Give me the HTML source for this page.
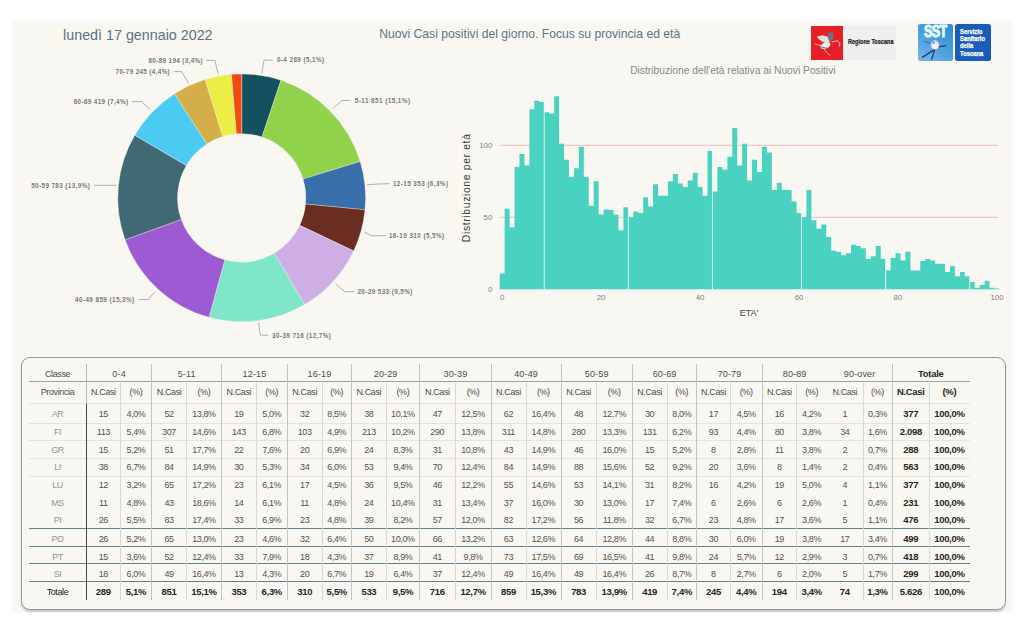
<!DOCTYPE html>
<html><head><meta charset="utf-8"><title>Nuovi Casi positivi</title>
<style>
html,body{margin:0;padding:0;background:#fff;}
body{width:1024px;height:634px;position:relative;overflow:hidden;font-family:"Liberation Sans",sans-serif;}
#panel{position:absolute;left:11.6px;top:20.8px;width:1000.4px;height:591.1px;background:#f9f7f2;box-shadow:0 0 3px 1.5px rgba(249,247,242,0.55);}
.t{position:absolute;white-space:nowrap;line-height:1;}
svg{position:absolute;left:0;top:0;}
.dl{font-family:"Liberation Sans",sans-serif;font-size:6.3px;font-weight:bold;fill:#787878;}
.ax{font-family:"Liberation Sans",sans-serif;font-size:7.9px;fill:#808080;}
#tbox{position:absolute;left:21.2px;top:356.8px;width:984.8px;height:253px;border:1.4px solid #8b9b9a;border-radius:9px;box-sizing:border-box;box-shadow:0 1.2px 1.2px rgba(120,135,135,0.4);}
.c{position:absolute;height:14px;line-height:14px;text-align:center;font-size:9px;color:#525252;white-space:nowrap;letter-spacing:-0.38px;text-indent:-0.38px;}
.c.h{color:#4c4c4c;}
.c.g{letter-spacing:0.15px;text-indent:0;}
.c.p{color:#959595;}
.c.b{font-weight:bold;color:#262626;font-size:9.5px;letter-spacing:-0.3px;text-indent:-0.3px;}
.c.tb{color:#222;}
.ln{position:absolute;}
</style></head><body>
<div id="panel"></div>
<div class="t" id="t1" style="left:63.1px;top:28.1px;font-size:14.3px;color:#5a7380;">lunedì 17 gennaio 2022</div>
<div class="t" id="t2" style="left:379.2px;top:28.3px;font-size:12.15px;color:#5d7582;">Nuovi Casi positivi del giorno. Focus su provincia ed età</div>
<div class="t" id="t3" style="left:630.2px;top:66.4px;font-size:10.25px;color:#888;">Distribuzione dell'età relativa ai Nuovi Positivi</div>

<!-- logos -->
<div style="position:absolute;left:843px;top:26.2px;width:52.6px;height:33.5px;background:#efefef;"></div>
<div style="position:absolute;left:811px;top:26.2px;width:32px;height:33.5px;background:#e62027;"></div>
<div class="t" id="t4" style="left:848.2px;top:39.3px;font-size:6.3px;font-weight:bold;color:#222;-webkit-text-stroke:0.2px #222;transform-origin:0 0;transform:scaleX(0.88);">Regione Toscana</div>
<div style="position:absolute;left:917.7px;top:24.1px;width:35.3px;height:36.6px;border-radius:2.5px;background:linear-gradient(215deg,#2d8ed5 0%,#4a9fdc 50%,#79b7e7 100%);"></div>
<div class="t" id="t5" style="left:923.5px;top:22.9px;font-size:17.4px;font-weight:bold;color:#e8fbff;letter-spacing:-0.9px;transform-origin:0 0;transform:scaleX(0.725);-webkit-text-stroke:1.1px #e8fbff;">SST</div>
<div style="position:absolute;left:955px;top:24.2px;width:35.8px;height:36.5px;border-radius:2.8px;background:#1a5cb8;"></div>
<div class="t" id="t6" style="left:960.3px;top:27.6px;font-size:6.5px;line-height:7.35px;font-weight:bold;color:#fff;white-space:pre;-webkit-text-stroke:0.25px #fff;transform-origin:0 0;transform:scaleX(0.9);">Servizio
Sanitario
della
Toscana</div>

<svg width="1024" height="634" viewBox="0 0 1024 634">
<path d="M241.70,73.95A123.9,123.9 0 0 1 281.00,80.35L262.06,136.97A64.2,64.2 0 0 0 241.70,133.65Z" fill="#14505f" stroke="#f5f3ee" stroke-width="0.35"/>
<path d="M281.00,80.35A123.9,123.9 0 0 1 360.15,161.52L303.08,179.02A64.2,64.2 0 0 0 262.06,136.97Z" fill="#90d34a" stroke="#f5f3ee" stroke-width="0.35"/>
<path d="M360.15,161.52A123.9,123.9 0 0 1 365.02,209.80L305.60,204.04A64.2,64.2 0 0 0 303.08,179.02Z" fill="#386ea9" stroke="#f5f3ee" stroke-width="0.35"/>
<path d="M365.02,209.80A123.9,123.9 0 0 1 353.65,250.94L299.71,225.36A64.2,64.2 0 0 0 305.60,204.04Z" fill="#6a2d1f" stroke="#f5f3ee" stroke-width="0.35"/>
<path d="M353.65,250.94A123.9,123.9 0 0 1 304.63,304.58L274.31,253.15A64.2,64.2 0 0 0 299.71,225.36Z" fill="#cdafe6" stroke="#f5f3ee" stroke-width="0.35"/>
<path d="M304.63,304.58A123.9,123.9 0 0 1 209.02,317.36L224.77,259.78A64.2,64.2 0 0 0 274.31,253.15Z" fill="#80e6c9" stroke="#f5f3ee" stroke-width="0.35"/>
<path d="M209.02,317.36A123.9,123.9 0 0 1 125.08,239.70L181.27,219.53A64.2,64.2 0 0 0 224.77,259.78Z" fill="#9c5bd2" stroke="#f5f3ee" stroke-width="0.35"/>
<path d="M125.08,239.70A123.9,123.9 0 0 1 134.79,135.22L186.31,165.40A64.2,64.2 0 0 0 181.27,219.53Z" fill="#416973" stroke="#f5f3ee" stroke-width="0.35"/>
<path d="M134.79,135.22A123.9,123.9 0 0 1 174.53,93.73L206.90,143.90A64.2,64.2 0 0 0 186.31,165.40Z" fill="#4bcbf1" stroke="#f5f3ee" stroke-width="0.35"/>
<path d="M174.53,93.73A123.9,123.9 0 0 1 205.17,79.46L222.77,136.50A64.2,64.2 0 0 0 206.90,143.90Z" fill="#d4ae49" stroke="#f5f3ee" stroke-width="0.35"/>
<path d="M205.17,79.46A123.9,123.9 0 0 1 231.47,74.37L236.40,133.87A64.2,64.2 0 0 0 222.77,136.50Z" fill="#ebee46" stroke="#f5f3ee" stroke-width="0.35"/>
<path d="M231.47,74.37A123.9,123.9 0 0 1 241.70,73.95L241.70,133.65A64.2,64.2 0 0 0 236.40,133.87Z" fill="#f14c0f" stroke="#f5f3ee" stroke-width="0.35"/>
<polyline points="261.8,73.4 264,60.1 272.6,60.1" fill="none" stroke="#9c9c9c" stroke-width="0.8"/>
<text x="276.9" y="62.300000000000004" textLength="47.2" lengthAdjust="spacing" class="dl">0-4 289 (5,1%)</text>
<polyline points="332.7,108.6 342,100.5 350.3,100.5" fill="none" stroke="#9c9c9c" stroke-width="0.8"/>
<text x="354.8" y="102.7" textLength="55.2" lengthAdjust="spacing" class="dl">5-11 851 (15,1%)</text>
<polyline points="367,184.8 378,184.0 389.3,183.7" fill="none" stroke="#9c9c9c" stroke-width="0.8"/>
<text x="392.9" y="185.89999999999998" textLength="55.1" lengthAdjust="spacing" class="dl">12-15 353 (6,3%)</text>
<polyline points="364.3,232.0 371.6,235.7 385.8,235.7" fill="none" stroke="#9c9c9c" stroke-width="0.8"/>
<text x="388.9" y="237.89999999999998" textLength="55.3" lengthAdjust="spacing" class="dl">16-19 310 (5,5%)</text>
<polyline points="336.1,284.2 344.9,291.7 353.9,291.7" fill="none" stroke="#9c9c9c" stroke-width="0.8"/>
<text x="357.4" y="293.9" textLength="54.9" lengthAdjust="spacing" class="dl">20-29 533 (9,5%)</text>
<polyline points="258.6,322.5 260.3,335.2 268.2,335.2" fill="none" stroke="#9c9c9c" stroke-width="0.8"/>
<text x="272.1" y="337.7" textLength="58.7" lengthAdjust="spacing" class="dl">30-39 716 (12,7%)</text>
<polyline points="138.4,299.6 148.1,299.6 155,291.5" fill="none" stroke="#9c9c9c" stroke-width="0.8"/>
<text x="75.0" y="301.8" textLength="59.1" lengthAdjust="spacing" class="dl">40-49 859 (15,3%)</text>
<polyline points="94.1,185.3 116.5,185.3" fill="none" stroke="#9c9c9c" stroke-width="0.8"/>
<text x="31.2" y="188.0" textLength="58.6" lengthAdjust="spacing" class="dl">50-59 783 (13,9%)</text>
<polyline points="131.7,101.6 141.4,101.6 150.4,109.7" fill="none" stroke="#9c9c9c" stroke-width="0.8"/>
<text x="73.7" y="103.8" textLength="54.3" lengthAdjust="spacing" class="dl">60-69 419 (7,4%)</text>
<polyline points="173.8,71.6 181.5,71.6 188.6,83.3" fill="none" stroke="#9c9c9c" stroke-width="0.8"/>
<text x="115.6" y="74.10000000000001" textLength="54.1" lengthAdjust="spacing" class="dl">70-79 245 (4,4%)</text>
<polyline points="206.5,60.4 215,60.4 218,73.6" fill="none" stroke="#9c9c9c" stroke-width="0.8"/>
<text x="148.5" y="62.900000000000006" textLength="54.1" lengthAdjust="spacing" class="dl">80-89 194 (3,4%)</text>
<line x1="499.7" x2="998.5" y1="217.30" y2="217.30" stroke="#e9bfb7" stroke-width="1"/>
<line x1="499.7" x2="998.5" y1="145.30" y2="145.30" stroke="#e9bfb7" stroke-width="1"/>
<path d="M499.70,289.30L499.70,273.46L504.65,273.46L504.65,208.66L509.60,208.66L509.60,227.38L514.54,227.38L514.54,166.90L519.49,166.90L519.49,153.94L524.44,153.94L524.44,165.46L529.39,165.46L529.39,109.30L534.34,109.30L534.34,100.66L539.28,100.66L539.28,102.10L544.23,102.10L544.23,112.18L549.18,112.18L549.18,113.62L554.13,113.62L554.13,96.34L559.08,96.34L559.08,143.86L564.02,143.86L564.02,159.70L568.97,159.70L568.97,176.98L573.92,176.98L573.92,168.34L578.87,168.34L578.87,146.74L583.82,146.74L583.82,176.98L588.76,176.98L588.76,205.78L593.71,205.78L593.71,181.30L598.66,181.30L598.66,214.42L603.61,214.42L603.61,209.38L608.56,209.38L608.56,210.10L613.50,210.10L613.50,214.42L618.45,214.42L618.45,230.26L623.40,230.26L623.40,207.22L628.35,207.22L628.35,217.30L633.30,217.30L633.30,211.54L638.24,211.54L638.24,212.98L643.19,212.98L643.19,197.14L648.14,197.14L648.14,206.50L653.09,206.50L653.09,184.18L658.04,184.18L658.04,195.70L662.98,195.70L662.98,195.70L667.93,195.70L667.93,181.30L672.88,181.30L672.88,174.10L677.83,174.10L677.83,183.46L682.78,183.46L682.78,187.06L687.72,187.06L687.72,180.58L692.67,180.58L692.67,172.66L697.62,172.66L697.62,187.06L702.57,187.06L702.57,195.70L707.52,195.70L707.52,151.06L712.46,151.06L712.46,191.38L717.41,191.38L717.41,166.90L722.36,166.90L722.36,169.78L727.31,169.78L727.31,156.82L732.26,156.82L732.26,128.02L737.20,128.02L737.20,165.46L742.15,165.46L742.15,143.86L747.10,143.86L747.10,180.58L752.05,180.58L752.05,159.70L757.00,159.70L757.00,171.94L761.94,171.94L761.94,146.74L766.89,146.74L766.89,152.50L771.84,152.50L771.84,189.94L776.79,189.94L776.79,182.74L781.74,182.74L781.74,189.94L786.68,189.94L786.68,189.94L791.63,189.94L791.63,201.46L796.58,201.46L796.58,212.98L801.53,212.98L801.53,217.30L806.48,217.30L806.48,189.94L811.42,189.94L811.42,220.18L816.37,220.18L816.37,228.82L821.32,228.82L821.32,224.50L826.27,224.50L826.27,236.88L831.22,236.88L831.22,250.71L836.16,250.71L836.16,251.86L841.11,251.86L841.11,255.32L846.06,255.32L846.06,253.30L851.01,253.30L851.01,244.66L855.96,244.66L855.96,246.10L860.90,246.10L860.90,248.26L865.85,248.26L865.85,259.06L870.80,259.06L870.80,256.18L875.75,256.18L875.75,246.10L880.70,246.10L880.70,259.06L885.64,259.06L885.64,270.58L890.59,270.58L890.59,258.05L895.54,258.05L895.54,253.30L900.49,253.30L900.49,260.50L905.44,260.50L905.44,251.86L910.38,251.86L910.38,270.58L915.33,270.58L915.33,270.58L920.28,270.58L920.28,260.93L925.23,260.93L925.23,259.06L930.18,259.06L930.18,260.50L935.12,260.50L935.12,263.67L940.07,263.67L940.07,263.67L945.02,263.67L945.02,272.02L949.97,272.02L949.97,266.26L954.92,266.26L954.92,276.34L959.86,276.34L959.86,272.02L964.81,272.02L964.81,276.34L969.76,276.34L969.76,282.10L974.71,282.10L974.71,287.86L979.66,287.86L979.66,284.98L984.60,284.98L984.60,280.66L989.55,280.66L989.55,287.86L994.50,287.86L994.50,288.58L999.45,288.58L999.45,289.30Z" fill="#49d2bf"/>
<line x1="544.23" x2="544.23" y1="102.10" y2="289.30" stroke="#eefaf7" stroke-width="0.9"/>
<line x1="628.35" x2="628.35" y1="207.22" y2="289.30" stroke="#eefaf7" stroke-width="0.9"/>
<line x1="712.46" x2="712.46" y1="151.06" y2="289.30" stroke="#eefaf7" stroke-width="0.9"/>
<line x1="801.53" x2="801.53" y1="212.98" y2="289.30" stroke="#eefaf7" stroke-width="0.9"/>
<line x1="885.64" x2="885.64" y1="259.06" y2="289.30" stroke="#eefaf7" stroke-width="0.9"/>
<line x1="969.76" x2="969.76" y1="276.34" y2="289.30" stroke="#eefaf7" stroke-width="0.9"/>
<g class="ax" text-anchor="end">
<text x="492.4" y="148.1">100</text>
<text x="492.4" y="220.1">50</text>
<text x="492.4" y="291.9">0</text>
</g>
<g class="ax" text-anchor="middle">
<text x="502.2" y="299.6">0</text><text x="601.1" y="299.6">20</text><text x="700.1" y="299.6">40</text><text x="799.1" y="299.6">60</text><text x="898.0" y="299.6">80</text><text x="997.0" y="299.6">100</text>
</g>
<text x="749" y="316.2" text-anchor="middle" style="font-family:'Liberation Sans',sans-serif;font-size:9px;fill:#444;">ETA'</text>
<text transform="translate(469.9,187.8) rotate(-90)" text-anchor="middle" style="font-family:'Liberation Sans',sans-serif;font-size:10.4px;fill:#3a3a3a;letter-spacing:0.64px;">Distribuzione per età</text>
<!-- logo art -->
<g id="pegasus">
<path d="M817.02,36.53 L822.53,35.15 L828.50,36.99 L830.79,40.66 L826.20,43.42 L821.15,40.94 L818.40,38.82Z" fill="#e3dcdc"/>
<path d="M827.30,32.86 L832.45,32.12 L833.73,35.43 L832.81,39.47 L830.06,42.04 L828.04,38.82 L828.41,35.61Z" fill="#6b7478"/>
<ellipse cx="825.47" cy="45.53" rx="5.2" ry="3.1" transform="rotate(-22 825.47 45.53)" fill="#f4f1f1"/>
<path d="M821.15,47.09 L828.50,48.65" stroke="#5d666a" stroke-width="1" fill="none"/>
<path d="M832.17,42.04 L837.22,40.66 L839.98,43.14 L839.24,46.17" stroke="#f6cfcf" stroke-width="0.9" fill="none" stroke-linecap="round"/>
<path d="M821.15,45.71 L815.00,44.06" stroke="#f3a9a6" stroke-width="0.9" fill="none" stroke-linecap="round"/>
<path d="M823.91,48.93 L827.30,53.24 L830.06,55.35" stroke="#f6bdb9" stroke-width="0.9" fill="none" stroke-linecap="round"/>
</g>
<g id="sstfig" fill="none" stroke="#1f437f" stroke-linecap="round">
<path d="M936.82,48.18 L922.62,57.21" stroke-width="1.5"/>
<path d="M934.61,49.76 L931.65,59.22" stroke-width="1.3"/>
<path d="M931.77,43.77 L924.20,41.24" stroke-width="0.8" stroke="#2f62a6"/>
<path d="M938.71,46.92 L945.65,45.66" stroke-width="1.3"/>
<ellipse cx="934.93" cy="45.03" rx="4.3" ry="4.7" fill="#e8ddf0" stroke="none" opacity="0.95"/>
<ellipse cx="935.24" cy="46.29" rx="2.6" ry="2.6" fill="#fbf6fb" stroke="none"/>
<circle cx="933.35" cy="42.50" r="1.3" fill="#6f9ad2" stroke="none"/>
</g>
</svg>

<div id="tbox"></div>
<div class="ln" style="left:29.0px;top:381.25px;width:940.5px;height:1.1px;background:#93a8a6"></div>
<div class="ln" style="left:29.0px;top:403.30px;width:940.5px;height:1px;background:#e2e2dd"></div>
<div class="ln" style="left:29.0px;top:422.60px;width:940.5px;height:1px;background:#e4e4df"></div>
<div class="ln" style="left:29.0px;top:440.25px;width:940.5px;height:1px;background:#e4e4df"></div>
<div class="ln" style="left:29.0px;top:457.90px;width:940.5px;height:1px;background:#e4e4df"></div>
<div class="ln" style="left:29.0px;top:475.50px;width:940.5px;height:1px;background:#e4e4df"></div>
<div class="ln" style="left:29.0px;top:528.15px;width:940.5px;height:0.9px;background:#62808a"></div>
<div class="ln" style="left:29.0px;top:545.85px;width:940.5px;height:0.9px;background:#62808a"></div>
<div class="ln" style="left:29.0px;top:563.45px;width:940.5px;height:0.9px;background:#62808a"></div>
<div class="ln" style="left:29.0px;top:581.05px;width:940.5px;height:0.9px;background:#62808a"></div>
<div class="ln" style="left:85.90px;top:364.0px;height:40.0px;width:1px;background:#a9bbba"></div>
<div class="ln" style="left:85.95px;top:404.0px;height:195.6px;width:0.9px;background:#2f4f5e"></div>
<div class="ln" style="left:120.15px;top:383.0px;height:216.6px;width:0.9px;background:#d3dad7"></div>
<div class="ln" style="left:151.35px;top:364.0px;height:235.6px;width:0.9px;background:#b9c8c7"></div>
<div class="ln" style="left:186.25px;top:383.0px;height:216.6px;width:0.9px;background:#d3dad7"></div>
<div class="ln" style="left:221.15px;top:364.0px;height:235.6px;width:0.9px;background:#b9c8c7"></div>
<div class="ln" style="left:256.05px;top:383.0px;height:216.6px;width:0.9px;background:#d3dad7"></div>
<div class="ln" style="left:286.95px;top:364.0px;height:235.6px;width:0.9px;background:#b9c8c7"></div>
<div class="ln" style="left:321.85px;top:383.0px;height:216.6px;width:0.9px;background:#d3dad7"></div>
<div class="ln" style="left:351.15px;top:364.0px;height:235.6px;width:0.9px;background:#b9c8c7"></div>
<div class="ln" style="left:386.05px;top:383.0px;height:216.6px;width:0.9px;background:#d3dad7"></div>
<div class="ln" style="left:419.25px;top:364.0px;height:235.6px;width:0.9px;background:#b9c8c7"></div>
<div class="ln" style="left:454.85px;top:383.0px;height:216.6px;width:0.9px;background:#d3dad7"></div>
<div class="ln" style="left:490.75px;top:364.0px;height:235.6px;width:0.9px;background:#b9c8c7"></div>
<div class="ln" style="left:525.55px;top:383.0px;height:216.6px;width:0.9px;background:#d3dad7"></div>
<div class="ln" style="left:560.55px;top:364.0px;height:235.6px;width:0.9px;background:#b9c8c7"></div>
<div class="ln" style="left:596.05px;top:383.0px;height:216.6px;width:0.9px;background:#d3dad7"></div>
<div class="ln" style="left:631.95px;top:364.0px;height:235.6px;width:0.9px;background:#b9c8c7"></div>
<div class="ln" style="left:666.75px;top:383.0px;height:216.6px;width:0.9px;background:#d3dad7"></div>
<div class="ln" style="left:696.35px;top:364.0px;height:235.6px;width:0.9px;background:#b9c8c7"></div>
<div class="ln" style="left:729.95px;top:383.0px;height:216.6px;width:0.9px;background:#d3dad7"></div>
<div class="ln" style="left:761.85px;top:364.0px;height:235.6px;width:0.9px;background:#b9c8c7"></div>
<div class="ln" style="left:796.15px;top:383.0px;height:216.6px;width:0.9px;background:#d3dad7"></div>
<div class="ln" style="left:862.55px;top:383.0px;height:216.6px;width:0.9px;background:#d3dad7"></div>
<div class="ln" style="left:891.85px;top:364.0px;height:235.6px;width:0.9px;background:#b9c8c7"></div>
<div class="ln" style="left:929.15px;top:383.0px;height:216.6px;width:0.9px;background:#d3dad7"></div>
<div class="c h" style="left:29.0px;width:57.4px;top:367.0px">Classe</div>
<div class="c h g" style="left:86.4px;width:65.4px;top:367.0px">0-4</div>
<div class="c h g" style="left:151.8px;width:69.8px;top:367.0px">5-11</div>
<div class="c h g" style="left:221.6px;width:65.8px;top:367.0px">12-15</div>
<div class="c h g" style="left:287.4px;width:64.2px;top:367.0px">16-19</div>
<div class="c h g" style="left:351.6px;width:68.1px;top:367.0px">20-29</div>
<div class="c h g" style="left:419.7px;width:71.5px;top:367.0px">30-39</div>
<div class="c h g" style="left:491.2px;width:69.8px;top:367.0px">40-49</div>
<div class="c h g" style="left:561.0px;width:71.4px;top:367.0px">50-59</div>
<div class="c h g" style="left:632.4px;width:64.4px;top:367.0px">60-69</div>
<div class="c h g" style="left:696.8px;width:65.5px;top:367.0px">70-79</div>
<div class="c h g" style="left:762.3px;width:64.7px;top:367.0px">80-89</div>
<div class="c h g" style="left:827.0px;width:65.3px;top:367.0px">90-over</div>
<div class="c h g b" style="left:892.3px;width:77.2px;top:367.0px">Totale</div>
<div class="c h" style="left:29.0px;width:57.4px;top:384.8px">Provincia</div>
<div class="c h" style="left:86.4px;width:34.2px;top:384.8px">N.Casi</div>
<div class="c h" style="left:120.6px;width:31.2px;top:384.8px">(%)</div>
<div class="c h" style="left:151.8px;width:34.9px;top:384.8px">N.Casi</div>
<div class="c h" style="left:186.7px;width:34.9px;top:384.8px">(%)</div>
<div class="c h" style="left:221.6px;width:34.9px;top:384.8px">N.Casi</div>
<div class="c h" style="left:256.5px;width:30.9px;top:384.8px">(%)</div>
<div class="c h" style="left:287.4px;width:34.9px;top:384.8px">N.Casi</div>
<div class="c h" style="left:322.3px;width:29.3px;top:384.8px">(%)</div>
<div class="c h" style="left:351.6px;width:34.9px;top:384.8px">N.Casi</div>
<div class="c h" style="left:386.5px;width:33.2px;top:384.8px">(%)</div>
<div class="c h" style="left:419.7px;width:35.6px;top:384.8px">N.Casi</div>
<div class="c h" style="left:455.3px;width:35.9px;top:384.8px">(%)</div>
<div class="c h" style="left:491.2px;width:34.8px;top:384.8px">N.Casi</div>
<div class="c h" style="left:526.0px;width:35.0px;top:384.8px">(%)</div>
<div class="c h" style="left:561.0px;width:35.5px;top:384.8px">N.Casi</div>
<div class="c h" style="left:596.5px;width:35.9px;top:384.8px">(%)</div>
<div class="c h" style="left:632.4px;width:34.8px;top:384.8px">N.Casi</div>
<div class="c h" style="left:667.2px;width:29.6px;top:384.8px">(%)</div>
<div class="c h" style="left:696.8px;width:33.6px;top:384.8px">N.Casi</div>
<div class="c h" style="left:730.4px;width:31.9px;top:384.8px">(%)</div>
<div class="c h" style="left:762.3px;width:34.3px;top:384.8px">N.Casi</div>
<div class="c h" style="left:796.6px;width:30.4px;top:384.8px">(%)</div>
<div class="c h" style="left:827.0px;width:36.0px;top:384.8px">N.Casi</div>
<div class="c h" style="left:863.0px;width:29.3px;top:384.8px">(%)</div>
<div class="c h b" style="left:892.3px;width:37.3px;top:384.8px">N.Casi</div>
<div class="c h b" style="left:929.6px;width:39.9px;top:384.8px">(%)</div>
<div class="c p" style="left:29.0px;width:57.4px;top:407.4px">AR</div>
<div class="c " style="left:86.4px;width:34.2px;top:407.4px">15</div>
<div class="c " style="left:120.6px;width:31.2px;top:407.4px">4,0%</div>
<div class="c " style="left:151.8px;width:34.9px;top:407.4px">52</div>
<div class="c " style="left:186.7px;width:34.9px;top:407.4px">13,8%</div>
<div class="c " style="left:221.6px;width:34.9px;top:407.4px">19</div>
<div class="c " style="left:256.5px;width:30.9px;top:407.4px">5,0%</div>
<div class="c " style="left:287.4px;width:34.9px;top:407.4px">32</div>
<div class="c " style="left:322.3px;width:29.3px;top:407.4px">8,5%</div>
<div class="c " style="left:351.6px;width:34.9px;top:407.4px">38</div>
<div class="c " style="left:386.5px;width:33.2px;top:407.4px">10,1%</div>
<div class="c " style="left:419.7px;width:35.6px;top:407.4px">47</div>
<div class="c " style="left:455.3px;width:35.9px;top:407.4px">12,5%</div>
<div class="c " style="left:491.2px;width:34.8px;top:407.4px">62</div>
<div class="c " style="left:526.0px;width:35.0px;top:407.4px">16,4%</div>
<div class="c " style="left:561.0px;width:35.5px;top:407.4px">48</div>
<div class="c " style="left:596.5px;width:35.9px;top:407.4px">12,7%</div>
<div class="c " style="left:632.4px;width:34.8px;top:407.4px">30</div>
<div class="c " style="left:667.2px;width:29.6px;top:407.4px">8,0%</div>
<div class="c " style="left:696.8px;width:33.6px;top:407.4px">17</div>
<div class="c " style="left:730.4px;width:31.9px;top:407.4px">4,5%</div>
<div class="c " style="left:762.3px;width:34.3px;top:407.4px">16</div>
<div class="c " style="left:796.6px;width:30.4px;top:407.4px">4,2%</div>
<div class="c " style="left:827.0px;width:36.0px;top:407.4px">1</div>
<div class="c " style="left:863.0px;width:29.3px;top:407.4px">0,3%</div>
<div class="c b" style="left:892.3px;width:37.3px;top:407.4px">377</div>
<div class="c b" style="left:929.6px;width:39.9px;top:407.4px">100,0%</div>
<div class="c p" style="left:29.0px;width:57.4px;top:425.0px">FI</div>
<div class="c " style="left:86.4px;width:34.2px;top:425.0px">113</div>
<div class="c " style="left:120.6px;width:31.2px;top:425.0px">5,4%</div>
<div class="c " style="left:151.8px;width:34.9px;top:425.0px">307</div>
<div class="c " style="left:186.7px;width:34.9px;top:425.0px">14,6%</div>
<div class="c " style="left:221.6px;width:34.9px;top:425.0px">143</div>
<div class="c " style="left:256.5px;width:30.9px;top:425.0px">6,8%</div>
<div class="c " style="left:287.4px;width:34.9px;top:425.0px">103</div>
<div class="c " style="left:322.3px;width:29.3px;top:425.0px">4,9%</div>
<div class="c " style="left:351.6px;width:34.9px;top:425.0px">213</div>
<div class="c " style="left:386.5px;width:33.2px;top:425.0px">10,2%</div>
<div class="c " style="left:419.7px;width:35.6px;top:425.0px">290</div>
<div class="c " style="left:455.3px;width:35.9px;top:425.0px">13,8%</div>
<div class="c " style="left:491.2px;width:34.8px;top:425.0px">311</div>
<div class="c " style="left:526.0px;width:35.0px;top:425.0px">14,8%</div>
<div class="c " style="left:561.0px;width:35.5px;top:425.0px">280</div>
<div class="c " style="left:596.5px;width:35.9px;top:425.0px">13,3%</div>
<div class="c " style="left:632.4px;width:34.8px;top:425.0px">131</div>
<div class="c " style="left:667.2px;width:29.6px;top:425.0px">6,2%</div>
<div class="c " style="left:696.8px;width:33.6px;top:425.0px">93</div>
<div class="c " style="left:730.4px;width:31.9px;top:425.0px">4,4%</div>
<div class="c " style="left:762.3px;width:34.3px;top:425.0px">80</div>
<div class="c " style="left:796.6px;width:30.4px;top:425.0px">3,8%</div>
<div class="c " style="left:827.0px;width:36.0px;top:425.0px">34</div>
<div class="c " style="left:863.0px;width:29.3px;top:425.0px">1,6%</div>
<div class="c b" style="left:892.3px;width:37.3px;top:425.0px">2.098</div>
<div class="c b" style="left:929.6px;width:39.9px;top:425.0px">100,0%</div>
<div class="c p" style="left:29.0px;width:57.4px;top:442.7px">GR</div>
<div class="c " style="left:86.4px;width:34.2px;top:442.7px">15</div>
<div class="c " style="left:120.6px;width:31.2px;top:442.7px">5,2%</div>
<div class="c " style="left:151.8px;width:34.9px;top:442.7px">51</div>
<div class="c " style="left:186.7px;width:34.9px;top:442.7px">17,7%</div>
<div class="c " style="left:221.6px;width:34.9px;top:442.7px">22</div>
<div class="c " style="left:256.5px;width:30.9px;top:442.7px">7,6%</div>
<div class="c " style="left:287.4px;width:34.9px;top:442.7px">20</div>
<div class="c " style="left:322.3px;width:29.3px;top:442.7px">6,9%</div>
<div class="c " style="left:351.6px;width:34.9px;top:442.7px">24</div>
<div class="c " style="left:386.5px;width:33.2px;top:442.7px">8,3%</div>
<div class="c " style="left:419.7px;width:35.6px;top:442.7px">31</div>
<div class="c " style="left:455.3px;width:35.9px;top:442.7px">10,8%</div>
<div class="c " style="left:491.2px;width:34.8px;top:442.7px">43</div>
<div class="c " style="left:526.0px;width:35.0px;top:442.7px">14,9%</div>
<div class="c " style="left:561.0px;width:35.5px;top:442.7px">46</div>
<div class="c " style="left:596.5px;width:35.9px;top:442.7px">16,0%</div>
<div class="c " style="left:632.4px;width:34.8px;top:442.7px">15</div>
<div class="c " style="left:667.2px;width:29.6px;top:442.7px">5,2%</div>
<div class="c " style="left:696.8px;width:33.6px;top:442.7px">8</div>
<div class="c " style="left:730.4px;width:31.9px;top:442.7px">2,8%</div>
<div class="c " style="left:762.3px;width:34.3px;top:442.7px">11</div>
<div class="c " style="left:796.6px;width:30.4px;top:442.7px">3,8%</div>
<div class="c " style="left:827.0px;width:36.0px;top:442.7px">2</div>
<div class="c " style="left:863.0px;width:29.3px;top:442.7px">0,7%</div>
<div class="c b" style="left:892.3px;width:37.3px;top:442.7px">288</div>
<div class="c b" style="left:929.6px;width:39.9px;top:442.7px">100,0%</div>
<div class="c p" style="left:29.0px;width:57.4px;top:460.3px">LI</div>
<div class="c " style="left:86.4px;width:34.2px;top:460.3px">38</div>
<div class="c " style="left:120.6px;width:31.2px;top:460.3px">6,7%</div>
<div class="c " style="left:151.8px;width:34.9px;top:460.3px">84</div>
<div class="c " style="left:186.7px;width:34.9px;top:460.3px">14,9%</div>
<div class="c " style="left:221.6px;width:34.9px;top:460.3px">30</div>
<div class="c " style="left:256.5px;width:30.9px;top:460.3px">5,3%</div>
<div class="c " style="left:287.4px;width:34.9px;top:460.3px">34</div>
<div class="c " style="left:322.3px;width:29.3px;top:460.3px">6,0%</div>
<div class="c " style="left:351.6px;width:34.9px;top:460.3px">53</div>
<div class="c " style="left:386.5px;width:33.2px;top:460.3px">9,4%</div>
<div class="c " style="left:419.7px;width:35.6px;top:460.3px">70</div>
<div class="c " style="left:455.3px;width:35.9px;top:460.3px">12,4%</div>
<div class="c " style="left:491.2px;width:34.8px;top:460.3px">84</div>
<div class="c " style="left:526.0px;width:35.0px;top:460.3px">14,9%</div>
<div class="c " style="left:561.0px;width:35.5px;top:460.3px">88</div>
<div class="c " style="left:596.5px;width:35.9px;top:460.3px">15,6%</div>
<div class="c " style="left:632.4px;width:34.8px;top:460.3px">52</div>
<div class="c " style="left:667.2px;width:29.6px;top:460.3px">9,2%</div>
<div class="c " style="left:696.8px;width:33.6px;top:460.3px">20</div>
<div class="c " style="left:730.4px;width:31.9px;top:460.3px">3,6%</div>
<div class="c " style="left:762.3px;width:34.3px;top:460.3px">8</div>
<div class="c " style="left:796.6px;width:30.4px;top:460.3px">1,4%</div>
<div class="c " style="left:827.0px;width:36.0px;top:460.3px">2</div>
<div class="c " style="left:863.0px;width:29.3px;top:460.3px">0,4%</div>
<div class="c b" style="left:892.3px;width:37.3px;top:460.3px">563</div>
<div class="c b" style="left:929.6px;width:39.9px;top:460.3px">100,0%</div>
<div class="c p" style="left:29.0px;width:57.4px;top:477.9px">LU</div>
<div class="c " style="left:86.4px;width:34.2px;top:477.9px">12</div>
<div class="c " style="left:120.6px;width:31.2px;top:477.9px">3,2%</div>
<div class="c " style="left:151.8px;width:34.9px;top:477.9px">65</div>
<div class="c " style="left:186.7px;width:34.9px;top:477.9px">17,2%</div>
<div class="c " style="left:221.6px;width:34.9px;top:477.9px">23</div>
<div class="c " style="left:256.5px;width:30.9px;top:477.9px">6,1%</div>
<div class="c " style="left:287.4px;width:34.9px;top:477.9px">17</div>
<div class="c " style="left:322.3px;width:29.3px;top:477.9px">4,5%</div>
<div class="c " style="left:351.6px;width:34.9px;top:477.9px">36</div>
<div class="c " style="left:386.5px;width:33.2px;top:477.9px">9,5%</div>
<div class="c " style="left:419.7px;width:35.6px;top:477.9px">46</div>
<div class="c " style="left:455.3px;width:35.9px;top:477.9px">12,2%</div>
<div class="c " style="left:491.2px;width:34.8px;top:477.9px">55</div>
<div class="c " style="left:526.0px;width:35.0px;top:477.9px">14,6%</div>
<div class="c " style="left:561.0px;width:35.5px;top:477.9px">53</div>
<div class="c " style="left:596.5px;width:35.9px;top:477.9px">14,1%</div>
<div class="c " style="left:632.4px;width:34.8px;top:477.9px">31</div>
<div class="c " style="left:667.2px;width:29.6px;top:477.9px">8,2%</div>
<div class="c " style="left:696.8px;width:33.6px;top:477.9px">16</div>
<div class="c " style="left:730.4px;width:31.9px;top:477.9px">4,2%</div>
<div class="c " style="left:762.3px;width:34.3px;top:477.9px">19</div>
<div class="c " style="left:796.6px;width:30.4px;top:477.9px">5,0%</div>
<div class="c " style="left:827.0px;width:36.0px;top:477.9px">4</div>
<div class="c " style="left:863.0px;width:29.3px;top:477.9px">1,1%</div>
<div class="c b" style="left:892.3px;width:37.3px;top:477.9px">377</div>
<div class="c b" style="left:929.6px;width:39.9px;top:477.9px">100,0%</div>
<div class="c p" style="left:29.0px;width:57.4px;top:495.5px">MS</div>
<div class="c " style="left:86.4px;width:34.2px;top:495.5px">11</div>
<div class="c " style="left:120.6px;width:31.2px;top:495.5px">4,8%</div>
<div class="c " style="left:151.8px;width:34.9px;top:495.5px">43</div>
<div class="c " style="left:186.7px;width:34.9px;top:495.5px">18,6%</div>
<div class="c " style="left:221.6px;width:34.9px;top:495.5px">14</div>
<div class="c " style="left:256.5px;width:30.9px;top:495.5px">6,1%</div>
<div class="c " style="left:287.4px;width:34.9px;top:495.5px">11</div>
<div class="c " style="left:322.3px;width:29.3px;top:495.5px">4,8%</div>
<div class="c " style="left:351.6px;width:34.9px;top:495.5px">24</div>
<div class="c " style="left:386.5px;width:33.2px;top:495.5px">10,4%</div>
<div class="c " style="left:419.7px;width:35.6px;top:495.5px">31</div>
<div class="c " style="left:455.3px;width:35.9px;top:495.5px">13,4%</div>
<div class="c " style="left:491.2px;width:34.8px;top:495.5px">37</div>
<div class="c " style="left:526.0px;width:35.0px;top:495.5px">16,0%</div>
<div class="c " style="left:561.0px;width:35.5px;top:495.5px">30</div>
<div class="c " style="left:596.5px;width:35.9px;top:495.5px">13,0%</div>
<div class="c " style="left:632.4px;width:34.8px;top:495.5px">17</div>
<div class="c " style="left:667.2px;width:29.6px;top:495.5px">7,4%</div>
<div class="c " style="left:696.8px;width:33.6px;top:495.5px">6</div>
<div class="c " style="left:730.4px;width:31.9px;top:495.5px">2,6%</div>
<div class="c " style="left:762.3px;width:34.3px;top:495.5px">6</div>
<div class="c " style="left:796.6px;width:30.4px;top:495.5px">2,6%</div>
<div class="c " style="left:827.0px;width:36.0px;top:495.5px">1</div>
<div class="c " style="left:863.0px;width:29.3px;top:495.5px">0,4%</div>
<div class="c b" style="left:892.3px;width:37.3px;top:495.5px">231</div>
<div class="c b" style="left:929.6px;width:39.9px;top:495.5px">100,0%</div>
<div class="c p" style="left:29.0px;width:57.4px;top:513.3px">PI</div>
<div class="c " style="left:86.4px;width:34.2px;top:513.3px">26</div>
<div class="c " style="left:120.6px;width:31.2px;top:513.3px">5,5%</div>
<div class="c " style="left:151.8px;width:34.9px;top:513.3px">83</div>
<div class="c " style="left:186.7px;width:34.9px;top:513.3px">17,4%</div>
<div class="c " style="left:221.6px;width:34.9px;top:513.3px">33</div>
<div class="c " style="left:256.5px;width:30.9px;top:513.3px">6,9%</div>
<div class="c " style="left:287.4px;width:34.9px;top:513.3px">23</div>
<div class="c " style="left:322.3px;width:29.3px;top:513.3px">4,8%</div>
<div class="c " style="left:351.6px;width:34.9px;top:513.3px">39</div>
<div class="c " style="left:386.5px;width:33.2px;top:513.3px">8,2%</div>
<div class="c " style="left:419.7px;width:35.6px;top:513.3px">57</div>
<div class="c " style="left:455.3px;width:35.9px;top:513.3px">12,0%</div>
<div class="c " style="left:491.2px;width:34.8px;top:513.3px">82</div>
<div class="c " style="left:526.0px;width:35.0px;top:513.3px">17,2%</div>
<div class="c " style="left:561.0px;width:35.5px;top:513.3px">56</div>
<div class="c " style="left:596.5px;width:35.9px;top:513.3px">11,8%</div>
<div class="c " style="left:632.4px;width:34.8px;top:513.3px">32</div>
<div class="c " style="left:667.2px;width:29.6px;top:513.3px">6,7%</div>
<div class="c " style="left:696.8px;width:33.6px;top:513.3px">23</div>
<div class="c " style="left:730.4px;width:31.9px;top:513.3px">4,8%</div>
<div class="c " style="left:762.3px;width:34.3px;top:513.3px">17</div>
<div class="c " style="left:796.6px;width:30.4px;top:513.3px">3,6%</div>
<div class="c " style="left:827.0px;width:36.0px;top:513.3px">5</div>
<div class="c " style="left:863.0px;width:29.3px;top:513.3px">1,1%</div>
<div class="c b" style="left:892.3px;width:37.3px;top:513.3px">476</div>
<div class="c b" style="left:929.6px;width:39.9px;top:513.3px">100,0%</div>
<div class="c p" style="left:29.0px;width:57.4px;top:531.6px">PO</div>
<div class="c " style="left:86.4px;width:34.2px;top:531.6px">26</div>
<div class="c " style="left:120.6px;width:31.2px;top:531.6px">5,2%</div>
<div class="c " style="left:151.8px;width:34.9px;top:531.6px">65</div>
<div class="c " style="left:186.7px;width:34.9px;top:531.6px">13,0%</div>
<div class="c " style="left:221.6px;width:34.9px;top:531.6px">23</div>
<div class="c " style="left:256.5px;width:30.9px;top:531.6px">4,6%</div>
<div class="c " style="left:287.4px;width:34.9px;top:531.6px">32</div>
<div class="c " style="left:322.3px;width:29.3px;top:531.6px">6,4%</div>
<div class="c " style="left:351.6px;width:34.9px;top:531.6px">50</div>
<div class="c " style="left:386.5px;width:33.2px;top:531.6px">10,0%</div>
<div class="c " style="left:419.7px;width:35.6px;top:531.6px">66</div>
<div class="c " style="left:455.3px;width:35.9px;top:531.6px">13,2%</div>
<div class="c " style="left:491.2px;width:34.8px;top:531.6px">63</div>
<div class="c " style="left:526.0px;width:35.0px;top:531.6px">12,6%</div>
<div class="c " style="left:561.0px;width:35.5px;top:531.6px">64</div>
<div class="c " style="left:596.5px;width:35.9px;top:531.6px">12,8%</div>
<div class="c " style="left:632.4px;width:34.8px;top:531.6px">44</div>
<div class="c " style="left:667.2px;width:29.6px;top:531.6px">8,8%</div>
<div class="c " style="left:696.8px;width:33.6px;top:531.6px">30</div>
<div class="c " style="left:730.4px;width:31.9px;top:531.6px">6,0%</div>
<div class="c " style="left:762.3px;width:34.3px;top:531.6px">19</div>
<div class="c " style="left:796.6px;width:30.4px;top:531.6px">3,8%</div>
<div class="c " style="left:827.0px;width:36.0px;top:531.6px">17</div>
<div class="c " style="left:863.0px;width:29.3px;top:531.6px">3,4%</div>
<div class="c b" style="left:892.3px;width:37.3px;top:531.6px">499</div>
<div class="c b" style="left:929.6px;width:39.9px;top:531.6px">100,0%</div>
<div class="c p" style="left:29.0px;width:57.4px;top:549.6px">PT</div>
<div class="c " style="left:86.4px;width:34.2px;top:549.6px">15</div>
<div class="c " style="left:120.6px;width:31.2px;top:549.6px">3,6%</div>
<div class="c " style="left:151.8px;width:34.9px;top:549.6px">52</div>
<div class="c " style="left:186.7px;width:34.9px;top:549.6px">12,4%</div>
<div class="c " style="left:221.6px;width:34.9px;top:549.6px">33</div>
<div class="c " style="left:256.5px;width:30.9px;top:549.6px">7,9%</div>
<div class="c " style="left:287.4px;width:34.9px;top:549.6px">18</div>
<div class="c " style="left:322.3px;width:29.3px;top:549.6px">4,3%</div>
<div class="c " style="left:351.6px;width:34.9px;top:549.6px">37</div>
<div class="c " style="left:386.5px;width:33.2px;top:549.6px">8,9%</div>
<div class="c " style="left:419.7px;width:35.6px;top:549.6px">41</div>
<div class="c " style="left:455.3px;width:35.9px;top:549.6px">9,8%</div>
<div class="c " style="left:491.2px;width:34.8px;top:549.6px">73</div>
<div class="c " style="left:526.0px;width:35.0px;top:549.6px">17,5%</div>
<div class="c " style="left:561.0px;width:35.5px;top:549.6px">69</div>
<div class="c " style="left:596.5px;width:35.9px;top:549.6px">16,5%</div>
<div class="c " style="left:632.4px;width:34.8px;top:549.6px">41</div>
<div class="c " style="left:667.2px;width:29.6px;top:549.6px">9,8%</div>
<div class="c " style="left:696.8px;width:33.6px;top:549.6px">24</div>
<div class="c " style="left:730.4px;width:31.9px;top:549.6px">5,7%</div>
<div class="c " style="left:762.3px;width:34.3px;top:549.6px">12</div>
<div class="c " style="left:796.6px;width:30.4px;top:549.6px">2,9%</div>
<div class="c " style="left:827.0px;width:36.0px;top:549.6px">3</div>
<div class="c " style="left:863.0px;width:29.3px;top:549.6px">0,7%</div>
<div class="c b" style="left:892.3px;width:37.3px;top:549.6px">418</div>
<div class="c b" style="left:929.6px;width:39.9px;top:549.6px">100,0%</div>
<div class="c p" style="left:29.0px;width:57.4px;top:567.0px">SI</div>
<div class="c " style="left:86.4px;width:34.2px;top:567.0px">18</div>
<div class="c " style="left:120.6px;width:31.2px;top:567.0px">6,0%</div>
<div class="c " style="left:151.8px;width:34.9px;top:567.0px">49</div>
<div class="c " style="left:186.7px;width:34.9px;top:567.0px">16,4%</div>
<div class="c " style="left:221.6px;width:34.9px;top:567.0px">13</div>
<div class="c " style="left:256.5px;width:30.9px;top:567.0px">4,3%</div>
<div class="c " style="left:287.4px;width:34.9px;top:567.0px">20</div>
<div class="c " style="left:322.3px;width:29.3px;top:567.0px">6,7%</div>
<div class="c " style="left:351.6px;width:34.9px;top:567.0px">19</div>
<div class="c " style="left:386.5px;width:33.2px;top:567.0px">6,4%</div>
<div class="c " style="left:419.7px;width:35.6px;top:567.0px">37</div>
<div class="c " style="left:455.3px;width:35.9px;top:567.0px">12,4%</div>
<div class="c " style="left:491.2px;width:34.8px;top:567.0px">49</div>
<div class="c " style="left:526.0px;width:35.0px;top:567.0px">16,4%</div>
<div class="c " style="left:561.0px;width:35.5px;top:567.0px">49</div>
<div class="c " style="left:596.5px;width:35.9px;top:567.0px">16,4%</div>
<div class="c " style="left:632.4px;width:34.8px;top:567.0px">26</div>
<div class="c " style="left:667.2px;width:29.6px;top:567.0px">8,7%</div>
<div class="c " style="left:696.8px;width:33.6px;top:567.0px">8</div>
<div class="c " style="left:730.4px;width:31.9px;top:567.0px">2,7%</div>
<div class="c " style="left:762.3px;width:34.3px;top:567.0px">6</div>
<div class="c " style="left:796.6px;width:30.4px;top:567.0px">2,0%</div>
<div class="c " style="left:827.0px;width:36.0px;top:567.0px">5</div>
<div class="c " style="left:863.0px;width:29.3px;top:567.0px">1,7%</div>
<div class="c b" style="left:892.3px;width:37.3px;top:567.0px">299</div>
<div class="c b" style="left:929.6px;width:39.9px;top:567.0px">100,0%</div>
<div class="c p tb" style="left:29.0px;width:57.4px;top:584.6px">Totale</div>
<div class="c b" style="left:86.4px;width:34.2px;top:584.6px">289</div>
<div class="c b" style="left:120.6px;width:31.2px;top:584.6px">5,1%</div>
<div class="c b" style="left:151.8px;width:34.9px;top:584.6px">851</div>
<div class="c b" style="left:186.7px;width:34.9px;top:584.6px">15,1%</div>
<div class="c b" style="left:221.6px;width:34.9px;top:584.6px">353</div>
<div class="c b" style="left:256.5px;width:30.9px;top:584.6px">6,3%</div>
<div class="c b" style="left:287.4px;width:34.9px;top:584.6px">310</div>
<div class="c b" style="left:322.3px;width:29.3px;top:584.6px">5,5%</div>
<div class="c b" style="left:351.6px;width:34.9px;top:584.6px">533</div>
<div class="c b" style="left:386.5px;width:33.2px;top:584.6px">9,5%</div>
<div class="c b" style="left:419.7px;width:35.6px;top:584.6px">716</div>
<div class="c b" style="left:455.3px;width:35.9px;top:584.6px">12,7%</div>
<div class="c b" style="left:491.2px;width:34.8px;top:584.6px">859</div>
<div class="c b" style="left:526.0px;width:35.0px;top:584.6px">15,3%</div>
<div class="c b" style="left:561.0px;width:35.5px;top:584.6px">783</div>
<div class="c b" style="left:596.5px;width:35.9px;top:584.6px">13,9%</div>
<div class="c b" style="left:632.4px;width:34.8px;top:584.6px">419</div>
<div class="c b" style="left:667.2px;width:29.6px;top:584.6px">7,4%</div>
<div class="c b" style="left:696.8px;width:33.6px;top:584.6px">245</div>
<div class="c b" style="left:730.4px;width:31.9px;top:584.6px">4,4%</div>
<div class="c b" style="left:762.3px;width:34.3px;top:584.6px">194</div>
<div class="c b" style="left:796.6px;width:30.4px;top:584.6px">3,4%</div>
<div class="c b" style="left:827.0px;width:36.0px;top:584.6px">74</div>
<div class="c b" style="left:863.0px;width:29.3px;top:584.6px">1,3%</div>
<div class="c b" style="left:892.3px;width:37.3px;top:584.6px">5.626</div>
<div class="c b" style="left:929.6px;width:39.9px;top:584.6px">100,0%</div>
</body></html>
